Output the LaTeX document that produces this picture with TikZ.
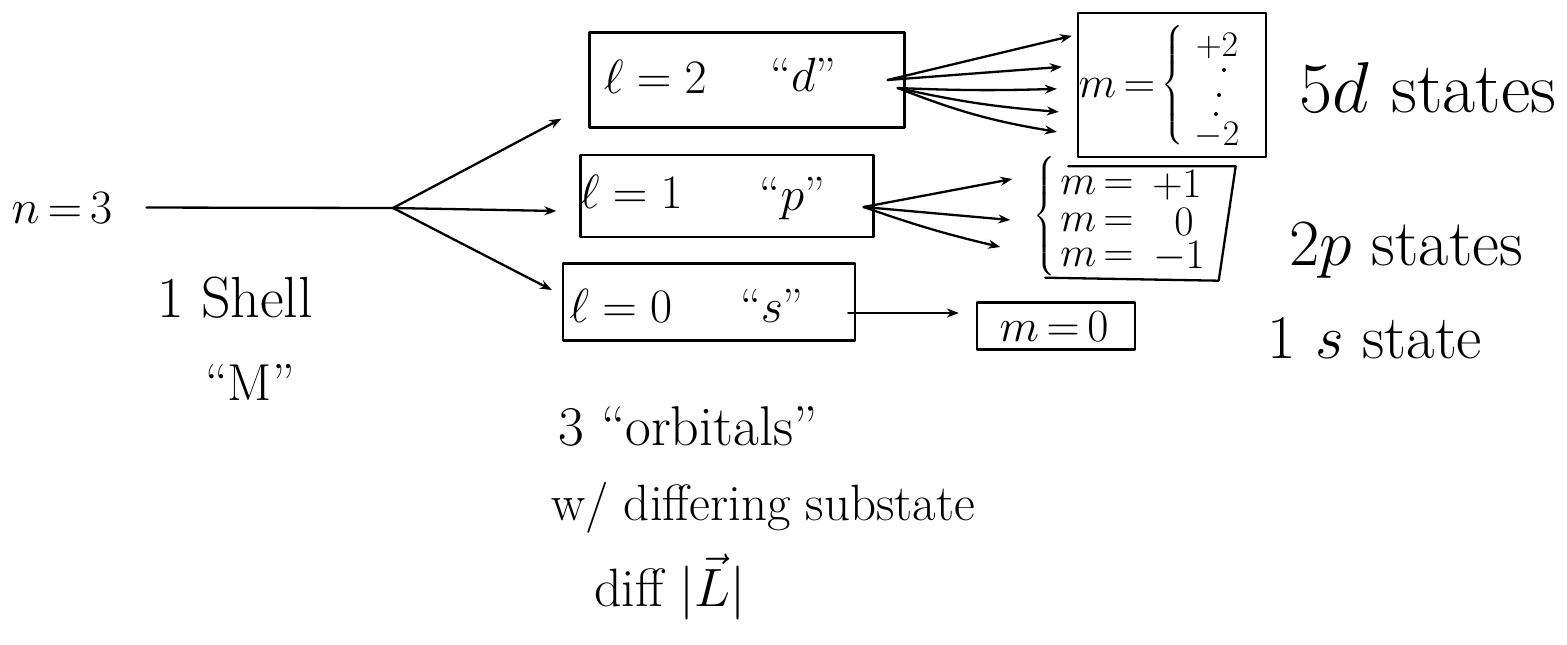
\RequirePackage{fix-cm}
\documentclass[tikz,border=0pt]{standalone}
\usepackage{amsmath}
\usepackage{fontspec}
\usetikzlibrary{arrows.meta,calc}
\newcommand{\myfs}[1]{\fontsize{#1}{#1}\selectfont}
\tikzset{
  ink/.style={line width=2.3pt, line cap=round, line join=round},
  arr/.style={ink, -{Stealth[length=12pt,width=9pt]}},
  box/.style={ink, draw, rectangle, inner sep=0pt},
  ghost/.style={rectangle, inner sep=0pt},
  lbl/.style={inner sep=0pt, anchor=base},
  mid/.style={inner sep=0pt, anchor=center},
  dotmark/.style={circle, fill, inner sep=0pt, minimum size=4pt},
}
\begin{document}
\begin{tikzpicture}[x=1pt,y=-1pt]
\useasboundingbox (0,0) rectangle (1567,645);
% left part
\node[lbl, font={\myfs{48}}] (n3) at (62,223) {$n\,{=}\,3$};
\coordinate (br) at (393,208);
\node[lbl, font={\myfs{58}}] (shell) at (235,317) {1 Shell};
\node[lbl, font={\myfs{52}}] (M) at (250,400) {``M''};
% l boxes
\node[box, minimum width=315pt, minimum height=95pt] (l2) at (747,80) {};
\node[lbl, font={\myfs{48}}] (l2a) at ($(l2.west)+(67,13)$) {$\ell=2$};
\node[lbl, font={\myfs{48}}] (l2b) at ($(l2.west)+(215,11)$) {``$d$''};
\node[box, minimum width=293pt, minimum height=82pt] (l1) at (727,196) {};
\node[lbl, font={\myfs{48}}] (l1a) at ($(l1.west)+(52,12)$) {$\ell=1$};
\node[lbl, font={\myfs{48}}] (l1b) at ($(l1.west)+(213,14)$) {``$p$''};
\node[box, minimum width=292pt, minimum height=77pt] (l0) at (709,302) {};
\node[lbl, font={\myfs{48}}] (l0a) at ($(l0.west)+(59,20)$) {$\ell=0$};
\node[lbl, font={\myfs{48}}] (l0b) at ($(l0.west)+(210,20)$) {``$s$''};
% first branching
\draw[ink] ($(n3.east)+(34,0)$) -- (br);
\draw[arr] (br) -- ($(l2.south west)+(-27,-10)$);
\draw[arr] (br) -- ($(l1.west)+(-23,15)$);
\draw[arr] (br) -- ($(l0.west)+(-10,-12)$);
% m box for d
\node[box, minimum width=188pt, minimum height=144pt] (md) at (1172,85) {};
\node[mid, font={\myfs{44}}] (mdl) at (1117,88) {$m\,{=}$};
\node[mid, font={\myfs{30}}] (mdb) at (1173,85) {$\left\{\vrule height 52pt depth 52pt width 0pt\right.$};
\node[mid, font={\myfs{36}}] (md1) at (1217,46) {$+2$};
\node[dotmark] (md2) at (1224,70) {};
\node[dotmark] (md3) at (1219,95) {};
\node[dotmark] (md4) at (1216,114) {};
\node[mid, font={\myfs{36}}] (md5) at (1217,135) {$-2$};
\draw[arr] ($(l2.east)+(-18,0)$) -- ($(md.north west)+(-5,24)$);
\draw[arr] ($(l2.east)+(-18,0)$) -- ($(md.north west)+(-15,55)$);
\draw[arr] ($(l2.east)+(-8,8)$) to[bend right=2] ($(md.north west)+(-20,77)$);
\draw[arr] ($(l2.east)+(-8,8)$) to[bend right=4] ($(md.north west)+(-18,100)$);
\draw[arr] ($(l2.east)+(-8,8)$) to[bend right=6] ($(md.north west)+(-20,120)$);
\node[lbl, font={\myfs{72}}] (sd) at (1428,112) {5$d$ states};
% m box for p
\node[ghost, minimum width=195pt, minimum height=111pt] (mp) at (1138,222) {};
\draw[ink] ($(mp.north west)+(28,0)$) -- (mp.north east) -- ($(mp.south east)+(-17,3)$) -- ($(mp.south west)+(5,0)$);
\node[mid, font={\myfs{30}}] (mpb) at (1045,216) {$\left\{\vrule height 52pt depth 52pt width 0pt\right.$};
\node[mid, font={\myfs{42}}] (mp1a) at (1097,185) {$m\,{=}$};
\node[mid, font={\myfs{42}}] (mp1b) at (1177,185) {$+1$};
\node[mid, font={\myfs{42}}] (mp2a) at (1097,222) {$m\,{=}$};
\node[mid, font={\myfs{42}}] (mp2b) at (1184,222) {$0$};
\node[mid, font={\myfs{42}}] (mp3a) at (1097,257) {$m\,{=}$};
\node[mid, font={\myfs{42}}] (mp3b) at (1179,257) {$-1$};
\draw[arr] ($(l1.east)+(-11,11)$) -- ($(mp.west)+(-28,-43)$);
\draw[arr] ($(l1.east)+(-11,11)$) -- ($(mp.west)+(-30,-2)$);
\draw[arr] ($(l1.east)+(-11,11)$) to[bend right=3] ($(mp.west)+(-40,25)$);
\node[lbl, font={\myfs{66}}] (sp) at (1406,265) {2$p$ states};
% m box for s
\node[box, minimum width=158pt, minimum height=47pt] (m0) at (1056,326) {};
\node[mid, font={\myfs{46}}] (m0t) at (1054,327) {$m\,{=}\,0$};
\draw[arr] ($(l0.east)+(-8,11)$) -- ($(m0.west)+(-17,-13)$);
\node[lbl, font={\myfs{62}}] (ss) at (1375,358) {1 $s$ state};
% bottom notes
\node[lbl, font={\myfs{56}}] (orb) at (688,445) {3 ``orbitals''};
\node[lbl, font={\myfs{51}}] (wd) at (763,520) {w/ differing substate};
\node[lbl, font={\myfs{54}}] (df) at (670,606) {diff $|\vec{L}|$};
\end{tikzpicture}
\end{document}
